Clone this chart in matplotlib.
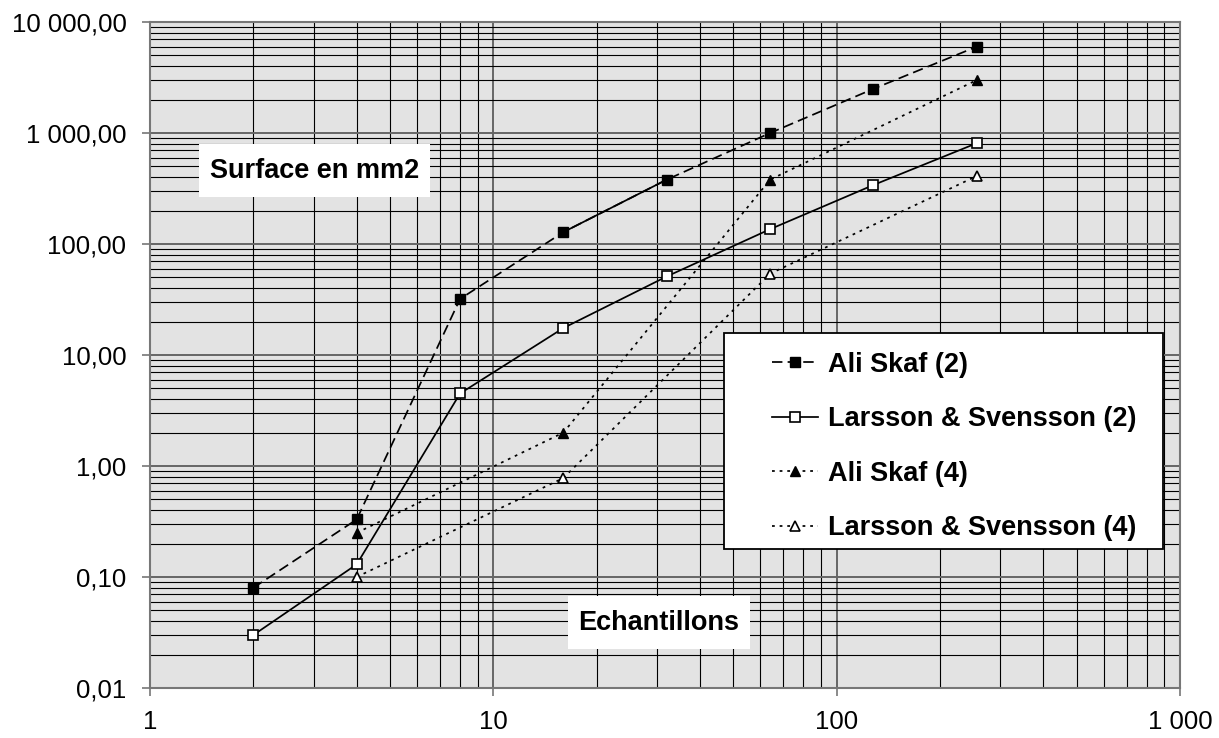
import matplotlib.pyplot as plt
from matplotlib.patches import Rectangle
from matplotlib.ticker import FuncFormatter, LogLocator, NullFormatter

# ------------------------------------------------------------
# data
# ------------------------------------------------------------
x_2 = [2, 4, 8, 16, 32, 64, 128, 256]
ali_skaf_2 = [0.08, 0.33, 32, 128, 380, 1000, 2500, 6000]
larsson_2 = [0.03, 0.13, 4.5, 17.5, 51, 136, 340, 810]

x_4 = [4, 16, 64, 256]
ali_skaf_4 = [0.25, 2.0, 380, 3000]
larsson_4 = [0.10, 0.78, 54, 410]

labels = ['Ali Skaf (2)', 'Larsson & Svensson (2)',
          'Ali Skaf (4)', 'Larsson & Svensson (4)']

W, H = 1219, 738
plt.rcParams['font.family'] = ['Liberation Sans', 'DejaVu Sans']


def fx(px):
    return px / W


def fy(py):
    return 1 - py / H


def fr_fmt(decimals):
    def _f(v, pos):
        s = f'{v:,.{decimals}f}'
        return s.replace(',', ' ').replace('.', ',')
    return FuncFormatter(_f)


fig = plt.figure(figsize=(W / 100, H / 100), dpi=100)
ax = fig.add_axes([fx(150), fy(688), fx(1180) - fx(150), fy(22) - fy(688)])
ax.set_facecolor('#e3e3e3')
ax.set_xscale('log')
ax.set_yscale('log')
ax.set_xlim(1, 1000)
ax.set_ylim(0.01, 10000)

# grid: minor black thin, major gray a bit heavier
ax.xaxis.set_minor_locator(LogLocator(base=10, subs=range(2, 10)))
ax.yaxis.set_minor_locator(LogLocator(base=10, subs=range(2, 10)))
ax.xaxis.set_minor_formatter(NullFormatter())
ax.yaxis.set_minor_formatter(NullFormatter())
ax.grid(True, which='minor', color='black', linewidth=0.8)
ax.grid(True, which='major', color='#666666', linewidth=1.4)
ax.set_axisbelow(True)

for sp in ax.spines.values():
    sp.set_color('#777777')
    sp.set_linewidth(1.5)

ax.xaxis.set_major_formatter(fr_fmt(0))
ax.yaxis.set_major_formatter(fr_fmt(2))
ax.tick_params(which='minor', length=0)
ax.tick_params(axis='x', which='major', length=6, width=1.2, color='#777777',
               labelsize=18.5, pad=10)
ax.tick_params(axis='y', which='major', length=6, width=1.2, color='#777777',
               labelsize=18.5, pad=11)

lw = 1.25
ms = 6.5
l1, = ax.plot(x_2, ali_skaf_2, color='black', lw=lw, dashes=(6, 3),
              marker='s', ms=ms, mfc='black', mec='black', label=labels[0],
              zorder=3)
# the 16 -> 32 segment is drawn solid in the original
ax.plot(x_2[3:5], ali_skaf_2[3:5], color='black', lw=lw, zorder=3)
l2, = ax.plot(x_2, larsson_2, color='black', lw=lw, ls='-',
              marker='s', ms=ms, mfc='white', mec='black', mew=1.2,
              label=labels[1], zorder=3)
l3, = ax.plot(x_4, ali_skaf_4, color='black', lw=lw, dashes=(1.6, 2.8),
              marker='^', ms=ms, mfc='black', mec='black', label=labels[2],
              zorder=3)
l4, = ax.plot(x_4, larsson_4, color='black', lw=lw, dashes=(1.6, 2.8),
              marker='^', ms=ms, mfc='white', mec='black', mew=1.2,
              label=labels[3], zorder=3)

# white boxes with bold captions
boxes = [((199, 144, 430, 197), 'Surface en mm2'),
         ((568, 596, 750, 649), 'Echantillons')]
for (x0, y0, x1, y1), txt in boxes:
    ax.add_patch(Rectangle((fx(x0), fy(y1)), fx(x1) - fx(x0), fy(y0) - fy(y1),
                           transform=fig.transFigure, facecolor='white',
                           edgecolor='none', zorder=4, clip_on=False))
    ax.text(fx((x0 + x1) / 2), fy((y0 + y1) / 2), txt, transform=fig.transFigure,
            ha='center', va='center', fontsize=19.5, fontweight='bold', zorder=5)

# legend frame drawn by hand, legend itself without frame
ax.add_patch(Rectangle((fx(724), fy(549)), fx(1163) - fx(724), fy(333) - fy(549),
                       transform=fig.transFigure, facecolor='white',
                       edgecolor='black', linewidth=1.3, zorder=4, clip_on=False))
leg = ax.legend(handles=[l1, l2, l3, l4], loc='upper left',
                bbox_to_anchor=(fx(757), fy(337)), bbox_transform=fig.transFigure,
                frameon=False, prop={'size': 19.5, 'weight': 'bold'},
                handlelength=1.72, handletextpad=0.36, labelspacing=1.05,
                borderpad=0.55, borderaxespad=0)
leg.set_zorder(5)

fig.savefig('out.png', dpi=100)
